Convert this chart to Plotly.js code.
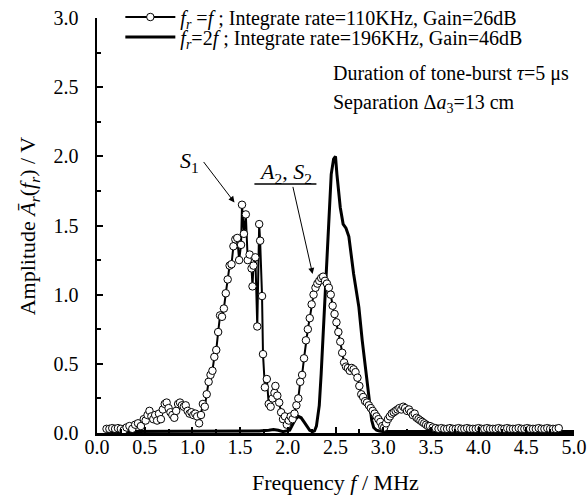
<!DOCTYPE html>
<html>
<head>
<meta charset="utf-8">
<script src="https://cdn.plot.ly/plotly-3.0.1.min.js"></script>
<style>
html,body{margin:0;padding:0;background:#fff;}
#chart{width:587px;height:500px;}
#chart svg text{font-family:"Liberation Serif","Times New Roman","DejaVu Serif",serif !important;}
</style>
</head>
<body>
<div id="chart"></div>
<script>
// Series 1: f_r = f (open circles)
const freq1 = [0.10,0.13,0.16,0.19,0.22,0.25,0.28,0.31,0.34,0.37,0.40,0.43,0.46,0.49,0.51,0.53,0.55,0.57,0.59,0.61,0.63,0.65,0.67,0.69,0.71,0.73,0.75,0.77,0.79,0.81,0.83,0.85,0.87,0.89,0.91,0.93,0.95,0.97,0.99,1.01,1.03,1.05,1.07,1.09,1.11,1.13,1.15,1.17,1.19,1.21,1.23,1.25,1.27,1.29,1.31,1.33,1.35,1.37,1.39,1.41,1.43,1.45,1.47,1.49,1.51,1.52,1.54,1.56,1.58,1.60,1.62,1.63,1.64,1.66,1.68,1.70,1.71,1.73,1.74,1.76,1.78,1.80,1.82,1.84,1.86,1.87,1.89,1.91,1.93,1.95,1.97,1.99,2.01,2.03,2.05,2.07,2.09,2.11,2.13,2.15,2.17,2.19,2.21,2.23,2.25,2.27,2.29,2.31,2.33,2.35,2.37,2.39,2.41,2.43,2.45,2.47,2.49,2.51,2.53,2.55,2.57,2.59,2.61,2.63,2.65,2.67,2.69,2.71,2.73,2.75,2.77,2.79,2.81,2.83,2.85,2.87,2.89,2.91,2.93,2.95,2.97,2.99,3.01,3.03,3.05,3.07,3.09,3.11,3.13,3.15,3.17,3.19,3.21,3.23,3.25,3.27,3.29,3.31,3.33,3.35,3.37,3.39,3.41,3.43,3.45,3.47,3.49,3.52,3.55,3.58,3.61,3.64,3.67,3.70,3.73,3.76,3.79,3.82,3.85,3.88,3.91,3.94,3.97,4.00,4.03,4.06,4.09,4.12,4.15,4.18,4.21,4.24,4.27,4.30,4.33,4.36,4.39,4.42,4.45,4.48,4.51,4.54,4.57,4.60,4.63,4.66,4.69,4.72,4.75,4.78,4.81,4.84,4.87,4.90,4.93,4.96,4.99];
const amp1 = [0.03,0.03,0.035,0.03,0.035,0.03,0.02,0.04,0.05,0.03,0.06,0.07,0.05,0.10,0.09,0.13,0.16,0.12,0.10,0.13,0.09,0.14,0.10,0.17,0.21,0.22,0.18,0.15,0.13,0.11,0.16,0.21,0.22,0.20,0.19,0.20,0.16,0.14,0.15,0.13,0.14,0.12,0.07,0.13,0.21,0.19,0.28,0.37,0.42,0.45,0.55,0.60,0.73,0.85,0.84,0.90,1.01,1.11,1.21,1.22,1.35,1.40,1.41,1.25,1.36,1.65,1.44,1.58,1.25,1.29,1.19,1.06,1.21,1.27,0.77,1.51,1.39,0.99,0.57,0.33,0.39,0.21,0.19,0.25,0.29,0.34,0.27,0.22,0.15,0.10,0.12,0.06,0.09,0.12,0.10,0.14,0.20,0.25,0.37,0.42,0.54,0.67,0.75,0.83,0.93,1.00,1.05,1.08,1.10,1.12,1.13,1.10,1.08,1.05,1.00,0.92,0.86,0.80,0.73,0.66,0.58,0.51,0.48,0.47,0.45,0.47,0.46,0.44,0.40,0.34,0.28,0.26,0.23,0.22,0.20,0.18,0.16,0.14,0.12,0.10,0.08,0.05,0.04,0.07,0.10,0.12,0.14,0.15,0.16,0.17,0.18,0.17,0.19,0.18,0.16,0.17,0.15,0.13,0.14,0.11,0.10,0.09,0.08,0.07,0.06,0.05,0.05,0.04,0.035,0.03,0.035,0.03,0.03,0.035,0.03,0.03,0.035,0.03,0.03,0.035,0.03,0.03,0.03,0.035,0.03,0.03,0.035,0.03,0.03,0.03,0.035,0.03,0.03,0.035,0.03,0.03,0.03,0.035,0.03,0.03,0.035,0.03,0.03,0.03,0.035,0.03,0.03,0.035,0.03,0.03,0.03,0.035];

// Series 2: f_r = 2f (solid line)
const freq2 = [0.10,0.30,0.50,0.70,0.90,1.10,1.30,1.50,1.70,1.80,1.85,1.90,1.95,2.02,2.05,2.08,2.11,2.14,2.17,2.20,2.23,2.26,2.28,2.30,2.33,2.35,2.37,2.385,2.40,2.42,2.44,2.455,2.48,2.50,2.515,2.55,2.58,2.61,2.64,2.66,2.69,2.72,2.745,2.78,2.80,2.82,2.84,2.86,2.88,2.90,2.93,2.96,3.00,3.50,4.00,4.50,5.00];
const amp2 = [0.01,0.01,0.015,0.01,0.015,0.01,0.015,0.01,0.015,0.02,0.025,0.02,0.01,0.02,0.06,0.10,0.12,0.11,0.08,0.05,0.02,0.01,0.015,0.05,0.20,0.43,0.70,0.91,1.15,1.39,1.63,1.87,1.98,2.00,1.87,1.63,1.51,1.48,1.42,1.30,1.15,1.02,0.91,0.67,0.55,0.43,0.31,0.19,0.09,0.04,0.02,0.015,0.01,0.01,0.01,0.01,0.01];

const xTickVals = [0,0.5,1,1.5,2,2.5,3,3.5,4,4.5,5];
const xTickText = ['0.0','0.5','1.0','1.5','2.0','2.5','3.0','3.5','4.0','4.5','5.0'];
const yTickVals = [0,0.5,1,1.5,2,2.5,3];
const yTickText = ['0.0','0.5','1.0','1.5','2.0','2.5','3.0'];

const FONT = '"Liberation Serif", "Times New Roman", serif';

const traces = [
  {
    x: freq2, y: amp2, type: 'scatter', mode: 'lines',
    line: {color: 'black', width: 3},
    name: '<i>f<sub>r</sub></i>=2<i>f</i> ; Integrate rate=196KHz, Gain=46dB',
    legend: 'legend2'
  },
  {
    x: freq1, y: amp1, type: 'scatter', mode: 'lines+markers',
    line: {color: 'black', width: 2},
    marker: {symbol: 'circle', size: 7.5, color: 'white', line: {color: 'black', width: 1}},
    name: '<i>f<sub>r</sub></i> =<i>f</i> ; Integrate rate=110KHz, Gain=26dB',
    legend: 'legend'
  }
];

const axisCommon = {
  showline: true, linecolor: 'black', linewidth: 2.5,
  showgrid: false, zeroline: false,
  ticks: 'inside', ticklen: 6, tickwidth: 2, tickcolor: 'black',
  tickmode: 'array',
  minor: {dtick: 0.25, ticks: 'inside', ticklen: 4, tickwidth: 2, tickcolor: 'black'},
  tickfont: {family: FONT, size: 20, color: 'black'}
};

const layout = {
  width: 587, height: 500,
  margin: {l: 97, r: 13, t: 18, b: 67, autoexpand: false},
  paper_bgcolor: 'white', plot_bgcolor: 'white',
  font: {family: FONT, size: 20, color: 'black'},
  showlegend: true,
  xaxis: Object.assign({}, axisCommon, {
    range: [0, 5], tickvals: xTickVals, ticktext: xTickText,
    ticklabelstandoff: -6
  }),
  yaxis: Object.assign({}, axisCommon, {
    range: [0, 3], tickvals: yTickVals, ticktext: yTickText,
    ticklabelstandoff: 12
  }),
  legend: {
    xref: 'container', yref: 'container',
    x: 0.205, xanchor: 'left', y: 0.966, yanchor: 'middle',
    bgcolor: 'rgba(0,0,0,0)', borderwidth: 0, itemwidth: 50,
    font: {family: FONT, size: 20, color: 'black'}
  },
  legend2: {
    xref: 'container', yref: 'container',
    x: 0.205, xanchor: 'left', y: 0.926, yanchor: 'middle',
    bgcolor: 'rgba(0,0,0,0)', borderwidth: 0, itemwidth: 50,
    font: {family: FONT, size: 20, color: 'black'}
  },
  annotations: [
    {xref: 'paper', yref: 'paper', x: 0.5, y: -0.12, xanchor: 'center', yanchor: 'middle', showarrow: false,
     text: 'Frequency <i>f</i> / MHz', font: {family: FONT, size: 22, color: 'black'}},
    {xref: 'paper', yref: 'paper', x: -0.143, y: 0.5, xanchor: 'center', yanchor: 'middle', textangle: -90, showarrow: false,
     text: 'Amplitude <i>Ā</i><sub><i>r</i></sub>(<i>f</i><sub><i>r</i></sub>) / V', font: {family: FONT, size: 22, color: 'black'}},
    {xref: 'paper', yref: 'paper', x: 0.49, y: 0.867, xanchor: 'left', yanchor: 'middle', showarrow: false,
     text: 'Duration of tone-burst <i>τ</i>=5 μs', font: {family: FONT, size: 20, color: 'black'}},
    {xref: 'paper', yref: 'paper', x: 0.49, y: 0.795, xanchor: 'left', yanchor: 'middle', showarrow: false,
     text: 'Separation Δ<i>a</i><sub>3</sub>=13 cm', font: {family: FONT, size: 20, color: 'black'}},
    {xref: 'x', yref: 'y', x: 0.97, y: 1.96, showarrow: false,
     text: '<i>S</i><sub>1</sub>', font: {family: FONT, size: 22, color: 'black'}},
    {xref: 'x', yref: 'y', x: 1.441, y: 1.667, ax: 1.106, ay: 1.97, axref: 'x', ayref: 'y',
     showarrow: true, arrowhead: 2, arrowsize: 1.2, arrowwidth: 1, arrowcolor: 'black', text: '', standoff: 0},
    {xref: 'x', yref: 'y', x: 1.98, y: 1.88, showarrow: false,
     text: '<i>A</i><sub>2</sub>, <i>S</i><sub>2</sub>', font: {family: FONT, size: 22, color: 'black'}},
    {xref: 'x', yref: 'y', x: 2.26, y: 1.15, ax: 2.05, ay: 1.79, axref: 'x', ayref: 'y',
     showarrow: true, arrowhead: 2, arrowsize: 1.2, arrowwidth: 1, arrowcolor: 'black', text: '', standoff: 0}
  ],
  shapes: [
    {type: 'line', xref: 'x', yref: 'y', x0: 1.65, x1: 2.30, y0: 1.80, y1: 1.80, line: {color: 'black', width: 1.5}}
  ]
};

Plotly.newPlot('chart', traces, layout, {displayModeBar: false, staticPlot: true});
</script>
</body>
</html>
